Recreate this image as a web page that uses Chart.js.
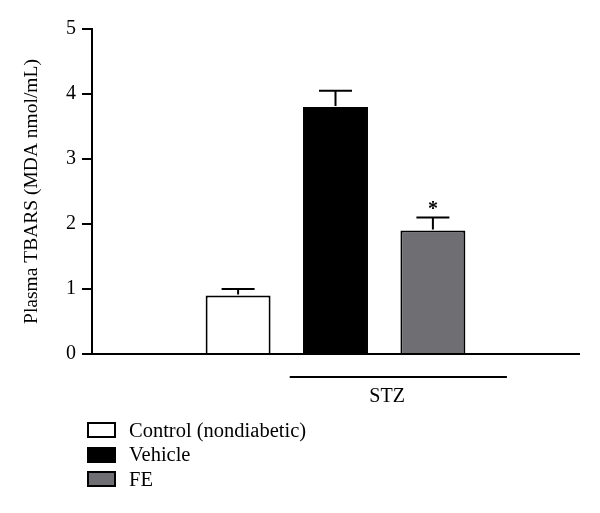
<!DOCTYPE html>
<html lang="en">
<head>
  <meta charset="UTF-8" />
  <title>Plasma TBARS</title>
  <script src="https://cdn.jsdelivr.net/npm/chart.js"></script>
  <style>
    body { margin: 0; background: #fff; }
    .wrap { position: relative; width: 600px; height: 513px; }
    .legend { position: absolute; left: 87px; top: 418px; font-family: "Liberation Serif", serif; font-size: 20.5px; color: #000; }
    .legend-item { display: flex; align-items: center; height: 24.5px; }
    .swatch { width: 25px; height: 12px; border: 2px solid #000; margin-right: 13px; }
  </style>
</head>
<body>
  <div class="wrap">
    <canvas id="tbarsChart" width="600" height="513"></canvas>
    <div class="legend" id="legend"></div>
  </div>

  <script>
    // groups on the x axis (blank slots pad both ends)
    const categories = ['', 'Control (nondiabetic)', 'Vehicle', 'FE', ''];
    const means = [null, 0.9, 3.8, 1.9, null];
    const sems = [null, 0.1, 0.25, 0.2, null];
    const marks = ['', '', '', '*', ''];
    const barColors = ['#fff', '#fff', '#000', '#6e6e73', '#fff'];
    const yTicks = [0, 1, 2, 3, 4, 5];
    const bracketLabel = 'STZ';

    const font = 'Liberation Serif';

    // legend built from the same arrays
    const legendBox = document.getElementById('legend');
    categories.forEach((c, i) => {
      if (!c) return;
      const row = document.createElement('div');
      row.className = 'legend-item';
      row.innerHTML = `<span class="swatch" style="background:${barColors[i]}"></span>${c}`;
      legendBox.appendChild(row);
    });

    const extrasPlugin = {
      id: 'extras',
      afterDatasetsDraw(chart) {
        const { ctx, scales: { x, y } } = chart;
        ctx.save();
        ctx.strokeStyle = '#000';
        ctx.lineWidth = 2;
        ctx.fillStyle = '#000';
        means.forEach((m, i) => {
          if (m === null) return;
          const cx = x.getPixelForValue(i);
          const top = y.getPixelForValue(m + sems[i]);
          const barTop = y.getPixelForValue(m);
          ctx.beginPath();
          ctx.moveTo(cx, barTop - 1);
          ctx.lineTo(cx, top);
          ctx.moveTo(cx - 16.5, top);
          ctx.lineTo(cx + 16.5, top);
          ctx.stroke();
          if (marks[i]) {
            ctx.font = `bold 20px "${font}"`;
            ctx.textAlign = 'center';
            ctx.textBaseline = 'bottom';
            ctx.fillText(marks[i], cx, top + 2);
          }
        });

        // STZ bracket under the two treated groups
        const base = y.getPixelForValue(0);
        ctx.beginPath();
        ctx.moveTo(x.getPixelForValue(1.53), base + 23);
        ctx.lineTo(x.getPixelForValue(3.76), base + 23);
        ctx.stroke();
        ctx.font = `20px "${font}"`;
        ctx.textAlign = 'center';
        ctx.textBaseline = 'middle';
        ctx.fillText(bracketLabel, x.getPixelForValue(2.53), base + 43);
        ctx.restore();
      }
    };

    new Chart(document.getElementById('tbarsChart'), {
      type: 'bar',
      data: {
        labels: categories,
        datasets: [{
          data: means,
          backgroundColor: barColors,
          borderColor: '#000',
          borderWidth: 2,
          barPercentage: 0.667,
          categoryPercentage: 1
        }]
      },
      options: {
        responsive: false,
        animation: false,
        layout: { padding: { left: 0, right: 21, top: 29, bottom: 0 } },
        plugins: { legend: { display: false }, tooltip: { enabled: false } },
        scales: {
          x: {
            grid: { display: false },
            border: { display: true, color: '#000', width: 2 },
            ticks: { display: false },
            afterFit: s => { s.height = 159; }
          },
          y: {
            min: 0,
            max: 5,
            afterBuildTicks: s => { s.ticks = yTicks.map(v => ({ value: v })); },
            grid: { display: true, drawOnChartArea: false, tickLength: 10, color: '#000', lineWidth: 2 },
            border: { display: true, color: '#000', width: 2 },
            ticks: { color: '#000', padding: 6, font: { family: font, size: 20 } },
            title: {
              display: true,
              text: 'Plasma TBARS (MDA nmol/mL)',
              color: '#000',
              font: { family: font, size: 19.5 },
              padding: { top: 20, bottom: 0 }
            },
            afterFit: s => { s.width = 92; }
          }
        }
      },
      plugins: [extrasPlugin]
    });
  </script>
</body>
</html>
